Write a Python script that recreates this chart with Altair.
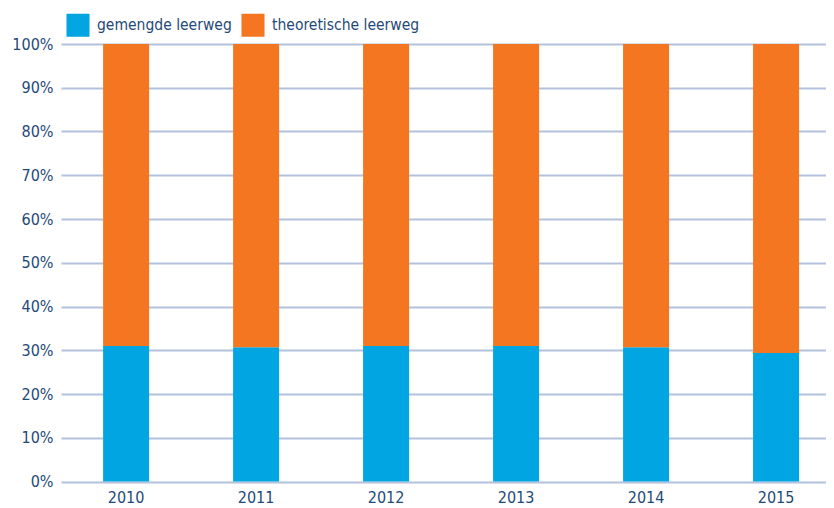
import altair as alt
import pandas as pd

years = ["2010", "2011", "2012", "2013", "2014", "2015"]
gemengde = [31.0, 30.7, 31.0, 31.0, 30.7, 29.4]
theoretische = [69.0, 69.3, 69.0, 69.0, 69.3, 70.6]
series = ["gemengde leerweg", "theoretische leerweg"]
colors = ["#00a5e2", "#f47621"]
y_ticks = [0, 10, 20, 30, 40, 50, 60, 70, 80, 90, 100]

rows = []
for i, y in enumerate(years):
    rows.append({"jaar": y, "leerweg": series[0], "pct": gemengde[i], "volg": 0})
    rows.append({"jaar": y, "leerweg": series[1], "pct": theoretische[i], "volg": 1})
df = pd.DataFrame(rows)

FONT = "Liberation Sans Narrow, DejaVu Sans Condensed, sans-serif"
TXT = "#1f4a78"

chart = alt.Chart(df).mark_bar().encode(
    x=alt.X("jaar:N", sort=years,
            scale=alt.Scale(paddingInner=0.646, paddingOuter=0.2655, align=0.61),
            axis=alt.Axis(title=None, labelAngle=0, ticks=False, domain=False,
                          labelPadding=8, labelFontSize=16, labelColor=TXT,
                          labelFont=FONT, grid=False)),
    y=alt.Y("pct:Q", stack="zero",
            scale=alt.Scale(domain=[0, 100], nice=False, zero=True),
            axis=alt.Axis(title=None, values=y_ticks, labelExpr="datum.value + '%'",
                          ticks=False, domain=False, labelPadding=8,
                          labelFontSize=16, labelColor=TXT, labelFont=FONT,
                          gridColor="#b4c1dc", gridWidth=2)),
    color=alt.Color("leerweg:N", sort=series,
                    scale=alt.Scale(domain=series, range=colors),
                    legend=alt.Legend(title=None, orient="none", direction="horizontal",
                                      legendX=5, legendY=-31, symbolType="square",
                                      symbolSize=530, symbolStrokeWidth=0,
                                      symbolOpacity=1, labelFontSize=15.5, labelColor=TXT,
                                      labelFont=FONT, columnPadding=9, labelOffset=7,
                                      labelLimit=0)),
    order=alt.Order("volg:Q", sort="ascending"),
).properties(
    width=765, height=437.5,
    autosize=alt.AutoSizeParams(type="none"),
    padding={"left": 53, "top": 36, "right": 0, "bottom": 26},
).configure_view(stroke=None)

chart.save("out.html", embed_options={"renderer": "svg", "actions": False})
